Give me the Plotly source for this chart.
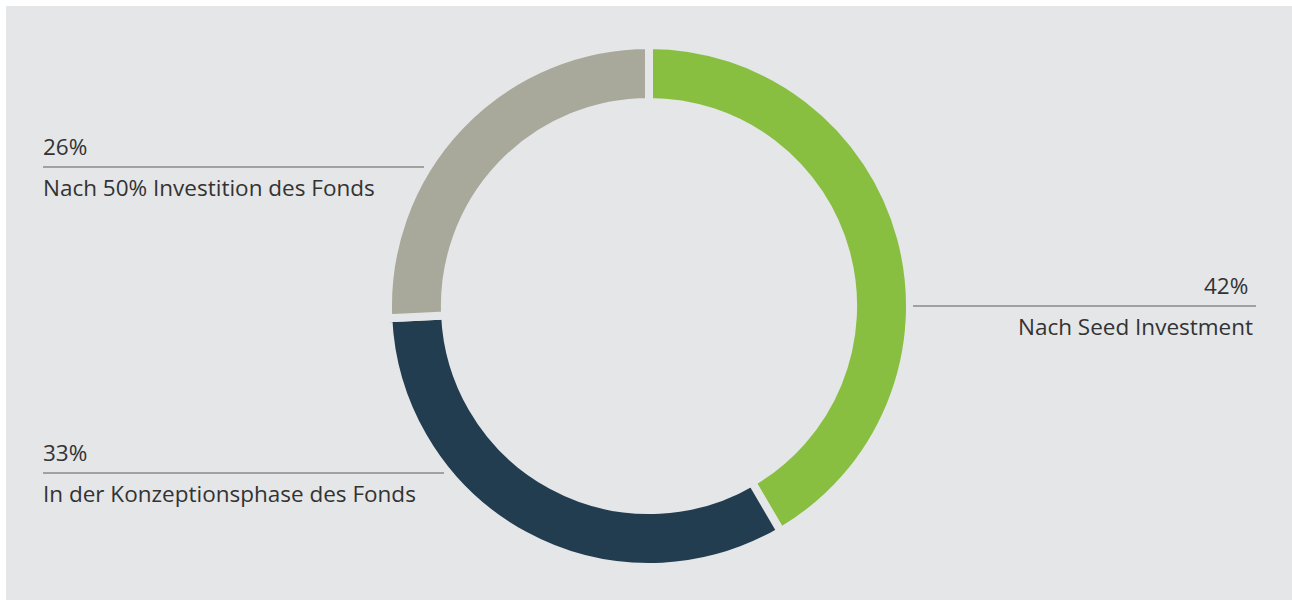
import plotly.graph_objects as go

labels = ["Nach Seed Investment", "In der Konzeptionsphase des Fonds", "Nach 50% Investition des Fonds"]
values = [42, 33, 26]
pct_text = ["42%", "33%", "26%"]
colors = ["#88bf41", "#223d50", "#a8a89b"]

BG = "#e5e6e8"
W, H = 1292, 600

cx, cy, R = 649, 306, 261

fig = go.Figure(go.Pie(
    labels=labels, values=values, sort=False, direction="clockwise", rotation=0,
    hole=0.782, textinfo="none", hoverinfo="label+percent",
    marker=dict(colors=colors, line=dict(color=BG, width=8)),
    domain=dict(x=[(cx - R) / W, (cx + R) / W], y=[1 - (cy + R) / H, 1 - (cy - R) / H]),
    showlegend=False,
))

def px(x):
    return x / W

def py(y):
    return 1 - y / H

shapes = [dict(type="rect", xref="paper", yref="paper", x0=px(6), x1=1.0, y0=0, y1=py(6),
               fillcolor=BG, line=dict(width=0), layer="below")]
annotations = []
font_fam = "Open Sans, Noto Sans, sans-serif"
txt_col = "#333333"
FS = 22.5

# (line y, x0, x1, pct x, label x, align)
label_pos = [
    (306, 913, 1256, 1250, 1255, "right"),
    (473, 43, 444, 41, 41, "left"),
    (167, 43, 424, 41, 41, "left"),
]
for (ly, x0, x1, tpx, tlx, al), lab, pt in zip(label_pos, labels, pct_text):
    shapes.append(dict(type="line", xref="paper", yref="paper", x0=px(x0), x1=px(x1),
                       y0=py(ly), y1=py(ly), line=dict(color="#8a8a8a", width=1.5)))
    xanchor = "right" if al == "right" else "left"
    annotations.append(dict(xref="paper", yref="paper", x=px(tpx), y=py(ly - 3), text=pt,
                            showarrow=False, xanchor=xanchor, yanchor="bottom",
                            font=dict(family=font_fam, size=FS, color=txt_col)))
    annotations.append(dict(xref="paper", yref="paper", x=px(tlx), y=py(ly + 3), text=lab,
                            showarrow=False, xanchor=xanchor, yanchor="top",
                            font=dict(family=font_fam, size=FS, color=txt_col)))

fig.update_layout(
    width=W, height=H, margin=dict(l=0, r=0, t=0, b=0),
    paper_bgcolor="white", plot_bgcolor="white",
    shapes=shapes, annotations=annotations,
)
fig.write_html("out.html")
